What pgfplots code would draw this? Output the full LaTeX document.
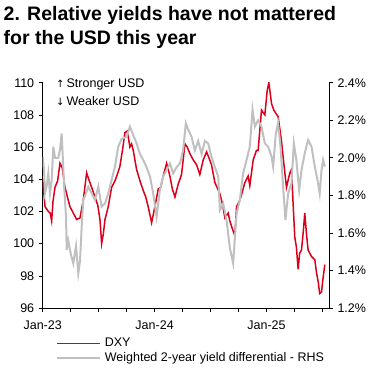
\documentclass[border=0pt]{standalone}
\usepackage{pgfplots}
\pgfplotsset{compat=1.18}
\usepackage{fontspec}
\setmainfont{Liberation Sans}
\newfontfamily\symfont{DejaVu Sans}
\definecolor{dxyred}{RGB}{218,0,28}
\definecolor{ydgray}{RGB}{192,192,192}
\begin{document}
\begin{tikzpicture}
\useasboundingbox (0,0) rectangle (378bp,377bp);
% Title
\node[anchor=base west,inner sep=0pt,font=\fontsize{19.5bp}{22bp}\selectfont\bfseries] at (3.5bp,356.3bp) {2. Relative yields have not mattered};
\node[anchor=base west,inner sep=0pt,font=\fontsize{19.5bp}{22bp}\selectfont\bfseries] at (3.5bp,332bp) {for the USD this year};
\pgfplotsset{
  common/.style={
    at={(42.7bp,69bp)}, anchor=south west,
    scale only axis, width=286.3bp, height=225.3bp,
    xmin=0, xmax=30.7,
    tick align=outside, major tick length=4bp, minor tick length=4bp,
    tick style={black,line width=0.6bp},
    axis line style={black,line width=0.7bp},
    ticklabel style={font=\fontsize{12.5bp}{14bp}\selectfont},
    /pgf/number format/assume math mode=true,
  }
}
\begin{axis}[common,
  ymin=96, ymax=110, ytick={96,98,...,110},
  axis y line*=left, axis x line*=bottom,
  xtick={0,12,24}, xticklabels={Jan-23,Jan-24,Jan-25},
  minor xtick={3,6,9,15,18,21,27,30},
  xticklabel style={yshift=-5bp},
  yticklabel style={xshift=-1bp},
]
\addplot[dxyred,line width=1.5bp] coordinates {
(0,104.0)(0.25,102.3)(0.6,102.0)(0.8,101.9)(0.96,101.4)(1.1,102.6)(1.32,103.5)(1.6,103.9)(1.85,105.0)(2.1,104.7)(2.39,103.5)(2.65,102.9)(2.92,102.3)(3.28,101.9)(3.64,101.5)(4.0,101.6)(4.35,102.7)(4.71,104.4)(5.0,103.9)(5.25,103.5)(5.6,102.9)(5.9,102.4)(6.14,101.5)(6.32,100.0)(6.5,100.6)(6.68,101.5)(7.03,102.3)(7.39,103.5)(7.75,103.9)(8.0,104.3)(8.28,104.8)(8.55,105.8)(8.82,106.9)(9.07,107.0)(9.35,106.0)(9.53,106.2)(9.71,105.8)(10.07,104.6)(10.43,103.9)(10.78,103.3)(11.05,102.9)(11.31,102.3)(11.68,101.3)(12.03,102.3)(12.39,103.4)(12.65,103.5)(12.92,104.2)(13.29,105.0)(13.64,104.2)(13.9,103.4)(14.18,102.9)(14.53,103.7)(14.89,104.3)(15.25,106.2)(15.5,106.0)(15.78,105.6)(16.14,105.2)(16.5,104.9)(16.85,104.3)(17.21,105.2)(17.57,105.7)(17.85,105.3)(18.1,104.9)(18.46,103.8)(19.0,103.1)(19.3,102.4)(19.53,101.6)(19.89,101.9)(20.07,101.4)(20.35,100.9)(20.6,100.5)(20.79,102.3)(21.14,102.7)(21.4,103.2)(21.68,103.8)(22.03,104.2)(22.21,103.6)(22.57,105.2)(22.93,105.8)(23.1,105.8)(23.46,108.3)(23.82,108.0)(24.07,109.5)(24.25,110.0)(24.54,108.7)(24.78,108.3)(25.0,108.1)(25.24,107.9)(25.6,106.4)(25.85,105.0)(26.14,103.5)(26.5,104.4)(26.68,104.6)(26.85,102.5)(27.03,100.4)(27.2,99.8)(27.39,98.4)(27.55,99.4)(27.75,99.6)(27.95,100.8)(28.1,101.9)(28.3,100.5)(28.46,99.6)(28.82,99.2)(29.18,99.0)(29.36,98.2)(29.55,97.6)(29.7,96.9)(29.9,97.0)(30.05,97.8)(30.25,98.7)
};
\end{axis}
\begin{axis}[common,
  ymin=1.2, ymax=2.4, ytick={1.2,1.4,...,2.4},
  axis y line*=right, axis x line=none,
  yticklabel={\pgfmathprintnumber[fixed,fixed zerofill,precision=1,assume math mode=true]{\tick}\%},
  yticklabel style={xshift=1bp},
  legend style={at={(0.045,-0.125)}, anchor=north west, draw=none, fill=none,
    font=\fontsize{12.5bp}{14bp}\selectfont, row sep=0bp, inner sep=0pt},
  legend cell align=left,
  legend image code/.code={\draw[#1] (0bp,0bp) -- (43bp,0bp);},
]
\addlegendimage{legend image code/.code={\draw[draw=dxyred,line width=1.5bp] (0bp,0bp) -- (43bp,0bp);}}
\addlegendentry{\,DXY}
\addplot[ydgray,line width=2bp] coordinates {
(0,2.006)(0.14,1.935)(0.25,1.811)(0.43,1.85)(0.6,1.917)(0.78,1.81)(0.96,1.88)(1.14,2.059)(1.32,2.0)(1.67,2.0)(1.85,2.04)(2.03,2.13)(2.14,2.02)(2.28,1.864)(2.5,1.686)(2.57,1.509)(2.74,1.56)(3.0,1.49)(3.28,1.438)(3.57,1.53)(3.82,1.385)(4.0,1.45)(4.18,1.633)(4.35,1.775)(4.64,1.81)(4.89,1.846)(5.25,1.81)(5.6,1.775)(5.96,1.846)(6.32,1.74)(6.68,1.757)(7.03,1.81)(7.39,1.882)(7.75,1.953)(8.1,2.059)(8.46,2.1)(9.0,2.112)(9.35,2.166)(9.71,2.12)(10.07,2.077)(10.43,2.02)(10.78,1.988)(11.14,1.95)(11.5,1.9)(11.85,1.81)(12.21,1.686)(12.57,1.83)(12.92,1.9)(13.29,1.935)(13.64,1.97)(13.99,1.917)(14.36,1.95)(14.71,1.97)(15.06,2.04)(15.35,2.184)(15.6,2.15)(15.96,2.112)(16.32,2.04)(16.67,2.09)(17.04,2.02)(17.39,2.09)(17.74,2.077)(18.1,2.006)(18.46,1.95)(18.82,1.9)(19.0,1.722)(19.35,1.757)(19.71,1.669)(20.07,1.52)(20.42,1.438)(20.79,1.704)(21.14,1.775)(21.49,1.917)(21.86,1.988)(22.21,2.06)(22.5,2.255)(22.75,2.166)(23.1,2.2)(23.46,2.166)(23.82,2.077)(24.17,2.06)(24.54,2.006)(24.71,1.953)(25.0,2.13)(25.24,2.184)(25.5,2.06)(25.78,1.846)(26.03,1.669)(26.32,1.81)(26.68,1.864)(26.93,2.077)(27.2,1.988)(27.5,1.828)(27.75,1.935)(28.1,2.024)(28.46,2.095)(28.82,2.06)(29.18,1.953)(29.53,1.864)(29.7,1.81)(29.9,1.935)(30.07,1.988)(30.25,1.953)
};
\addlegendentry{\,Weighted 2-year yield differential - RHS}
\end{axis}
% annotation inside plot
\node[anchor=base west,inner sep=0pt,font=\fontsize{12.5bp}{14bp}\selectfont] at (56bp,289bp) {{\symfont\fontsize{10bp}{12bp}\selectfont ↑}\,Stronger USD};
\node[anchor=base west,inner sep=0pt,font=\fontsize{12.5bp}{14bp}\selectfont] at (56bp,271bp) {{\symfont\fontsize{10bp}{12bp}\selectfont ↓}\,Weaker USD};
\end{tikzpicture}
\end{document}
